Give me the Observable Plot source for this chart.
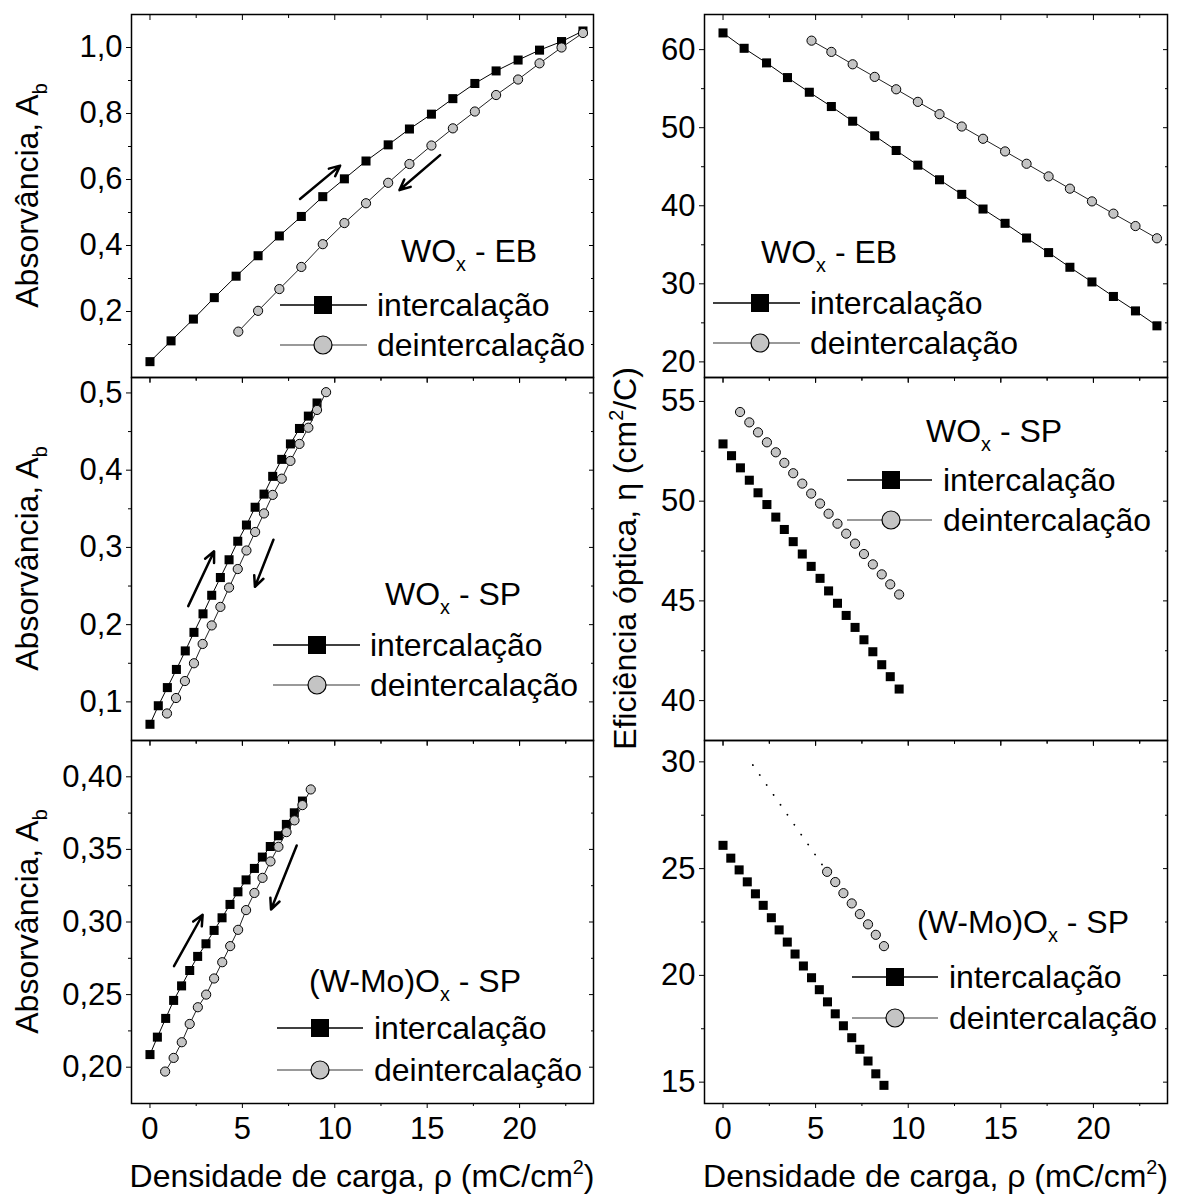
<!DOCTYPE html>
<html><head><meta charset="utf-8">
<script src="https://cdn.jsdelivr.net/npm/d3@7"></script>
<script src="https://cdn.jsdelivr.net/npm/@observablehq/plot@0.6"></script>
<style>
body{margin:0;background:#fff;}
#chart{position:relative;width:1182px;height:1203px;background:#fff;}
#chart svg{position:absolute;overflow:visible;}
</style></head><body><div id="chart"></div>
<script>
// ---------- DATA ----------
// WOx - EB
const ebX_int   = [0,1.14,2.35,3.48,4.66,5.85,7.0,8.19,9.35,10.52,11.69,12.89,14.04,15.23,16.39,17.58,18.73,19.92,21.08,22.27,23.43];
const ebA_int   = [0.048,0.111,0.177,0.242,0.307,0.369,0.429,0.488,0.548,0.602,0.656,0.705,0.753,0.798,0.845,0.891,0.929,0.962,0.992,1.018,1.05];
const ebX_deint = [4.78,5.85,7.0,8.19,9.35,10.52,11.69,12.89,14.04,15.23,16.39,17.58,18.73,19.92,21.08,22.27,23.43];
const ebA_deint = [0.139,0.202,0.268,0.335,0.404,0.468,0.528,0.59,0.647,0.703,0.755,0.806,0.856,0.903,0.952,1.0,1.044];
const ebE_int   = [62.14,60.17,58.3,56.42,54.54,52.71,50.83,48.96,47.08,45.2,43.33,41.46,39.58,37.75,35.87,34.0,32.12,30.24,28.38,26.53,24.62];
const ebE_deint = [61.15,59.71,58.12,56.51,54.92,53.31,51.73,50.15,48.58,46.96,45.38,43.76,42.19,40.56,38.99,37.4,35.83];

// WOx - SP
const spX_int   = [0,0.45,0.94,1.43,1.91,2.38,2.87,3.34,3.81,4.28,4.75,5.22,5.69,6.17,6.64,7.13,7.6,8.09,8.57,9.04];
const spA_int   = [0.071,0.095,0.1185,0.142,0.166,0.19,0.214,0.238,0.261,0.284,0.308,0.329,0.352,0.369,0.392,0.414,0.434,0.454,0.47,0.487];
const spX_deint = [0.92,1.41,1.89,2.38,2.85,3.34,3.81,4.28,4.75,5.22,5.69,6.17,6.64,7.13,7.6,8.09,8.57,9.04,9.53];
const spA_deint = [0.085,0.105,0.127,0.15,0.175,0.199,0.223,0.248,0.272,0.296,0.32,0.344,0.368,0.389,0.412,0.434,0.455,0.478,0.501];
const spXe_int   = [0,0.46,0.94,1.42,1.89,2.37,2.85,3.31,3.79,4.28,4.76,5.24,5.7,6.18,6.65,7.13,7.61,8.09,8.57,9.03,9.51];
const spE_int    = [52.87,52.28,51.67,51.05,50.42,49.83,49.2,48.58,47.97,47.35,46.73,46.13,45.5,44.88,44.27,43.67,43.05,42.45,41.8,41.2,40.58];
const spXe_deint = [0.92,1.42,1.89,2.37,2.85,3.31,3.79,4.28,4.76,5.24,5.7,6.18,6.65,7.13,7.61,8.09,8.57,9.03,9.51];
const spE_deint  = [54.47,53.95,53.45,52.95,52.45,51.92,51.4,50.88,50.38,49.88,49.37,48.87,48.37,47.87,47.35,46.83,46.33,45.83,45.32];

// (W-Mo)Ox - SP
const wmX_int   = [0,0.4,0.85,1.28,1.71,2.15,2.58,3.03,3.47,3.9,4.33,4.76,5.2,5.65,6.08,6.51,6.95,7.38,7.81,8.25];
const wmA_int   = [0.2087,0.2207,0.2336,0.246,0.256,0.2666,0.2763,0.285,0.2942,0.3029,0.3121,0.3208,0.329,0.3369,0.3447,0.352,0.3594,0.3672,0.3752,0.3833];
const wmX_deint = [0.82,1.28,1.72,2.15,2.59,3.04,3.47,3.91,4.34,4.77,5.2,5.65,6.09,6.52,6.95,7.39,7.82,8.25,8.7];
const wmA_deint = [0.197,0.2064,0.2172,0.2298,0.2413,0.25,0.2611,0.2723,0.2834,0.2946,0.3082,0.32,0.3304,0.3417,0.3518,0.3619,0.37,0.3805,0.3913];
const wmXe_int   = [0,0.42,0.87,1.31,1.75,2.17,2.61,3.03,3.47,3.89,4.34,4.78,5.2,5.64,6.06,6.5,6.95,7.39,7.83,8.25,8.69];
const wmE_int    = [26.09,25.49,24.94,24.38,23.82,23.28,22.7,22.13,21.56,21.0,20.44,19.89,19.33,18.76,18.2,17.64,17.08,16.54,15.99,15.39,14.85];
const wmXe_deint = [5.62,6.06,6.5,6.95,7.39,7.83,8.25,8.69];
const wmE_deint  = [24.85,24.37,23.85,23.37,22.87,22.39,21.9,21.37];
const wmXe_dotted = [1.61,5.62];
const wmE_dotted  = [29.85,24.85];

// arrows [x1,y1,x2,y2]
const ebArrows = [[8.12,0.541,10.29,0.642],[15.7,0.674,13.5,0.568]];
const spArrows = [[2.07,0.224,3.47,0.295],[6.68,0.310,5.68,0.249]];
const wmArrows = [[1.3,0.2696,2.85,0.305],[7.94,0.3527,6.55,0.3086]];

// ticks
const xTicks = [0,5,10,15,20];
const xMinor = [2.5,7.5,12.5,17.5,22.5];
const ebA_ticks = [0.2,0.4,0.6,0.8,1.0], ebA_minor = [0.1,0.3,0.5,0.7,0.9];
const spA_ticks = [0.1,0.2,0.3,0.4,0.5], spA_minor = [0.15,0.25,0.35,0.45];
const wmA_ticks = [0.20,0.25,0.30,0.35,0.40], wmA_minor = [0.225,0.275,0.325,0.375];
const ebE_ticks = [20,30,40,50,60], ebE_minor = [25,35,45,55];
const spE_ticks = [40,45,50,55], spE_minor = [42.5,47.5,52.5];
const wmE_ticks = [15,20,25,30], wmE_minor = [17.5,22.5,27.5];

// texts
const legendLabels = ["intercalação","deintercalação"];
const xTitle = "Densidade de carga, ρ (mC/cm";
const yTitleLeft = ["Absorvância, A","b"];
const yTitleRight = ["Eficiência óptica, η (cm","2","/C)"];

// ---------- LAYOUT ----------
const FONT = '"Liberation Sans", Arial, Helvetica, sans-serif';
const COLS = [{left:0, mL:131, frameW:462}, {left:600, mL:104, frameW:463}];
const ROW_TOPS = [14, 377, 740];
const FRAME_H = 363;
const GRAY = "#c4c4c4";

const zip = (xs, ys) => xs.map((x, i) => ({x, y: ys[i]}));
const arr = (a) => a.map(([x1,y1,x2,y2]) => ({x1,y1,x2,y2}));
const fmt = (p) => (d) => p === 0 ? String(d) : d.toFixed(p).replace(".", ",");

const root = document.getElementById("chart");

function panel(cfg) {
  const C = COLS[cfg.col];
  const top = ROW_TOPS[cfg.row];
  const bottom = cfg.row === 2;
  const mB = bottom ? 100 : 20;
  const marks = [
    Plot.axisY(cfg.yTicks, {anchor:"left", tickSize:5, tickPadding:4, tickFormat: fmt(cfg.digits), fontSize:31, label:null}),
    Plot.axisY(cfg.yMinor, {anchor:"left", tickSize:3, fill:"none", label:null}),
    Plot.axisY(cfg.yTicks, {anchor:"right", tickSize:5, insetRight:5, fill:"none", label:null}),
    Plot.axisY(cfg.yMinor, {anchor:"right", tickSize:3, insetRight:3, fill:"none", label:null}),
    Plot.axisX(xTicks, {anchor:"top", tickSize:5, insetTop:5, fill:"none", label:null}),
    Plot.axisX(xMinor, {anchor:"top", tickSize:3, insetTop:3, fill:"none", label:null}),
    bottom
      ? Plot.axisX(xTicks, {anchor:"bottom", tickSize:5, tickPadding:8, fontSize:31, label:null})
      : Plot.axisX(xTicks, {anchor:"bottom", tickSize:5, fill:"none", label:null}),
    Plot.axisX(xMinor, {anchor:"bottom", tickSize:3, fill:"none", label:null}),
  ];
  if (cfg.dotted) marks.push(Plot.line(cfg.dotted, {x:"x", y:"y", stroke:"black", strokeWidth:1.8, strokeDasharray:"0.1,12", strokeLinecap:"round"}));
  if (cfg.lines) marks.push(Plot.line(cfg.ints, {x:"x", y:"y", stroke:"black", strokeWidth:1}));
  marks.push(Plot.dot(cfg.ints, {x:"x", y:"y", symbol:"square", fill:"black", r:5.1}));
  if (cfg.lines) marks.push(Plot.line(cfg.deints, {x:"x", y:"y", stroke:"#222", strokeWidth:1}));
  marks.push(Plot.dot(cfg.deints, {x:"x", y:"y", symbol:"circle", fill:GRAY, stroke:"black", strokeWidth:1, r:4.6}));
  if (cfg.arrows) marks.push(Plot.arrow(cfg.arrows, {x1:"x1", y1:"y1", x2:"x2", y2:"y2", stroke:"black", strokeWidth:2.5, headLength:7, headAngle:50}));
  marks.push(Plot.frame({stroke:"black", strokeWidth:1.5}));

  const svg = Plot.plot({
    width: C.mL + C.frameW + 20,
    height: 14 + FRAME_H + mB,
    marginLeft: C.mL, marginRight: 20, marginTop: 14, marginBottom: mB,
    style: {background:"transparent", overflow:"visible", fontFamily: FONT, color:"black"},
    x: {domain:[-1, 24]},
    y: {domain: cfg.yDomain},
    marks
  });
  svg.style.left = C.left + "px";
  svg.style.top = (top - 14) + "px";
  root.appendChild(svg);
}

panel({col:0, row:0, yDomain:[0,1.1], yTicks:ebA_ticks, yMinor:ebA_minor, digits:1, lines:true,
  ints: zip(ebX_int, ebA_int), deints: zip(ebX_deint, ebA_deint), arrows: arr(ebArrows)});
panel({col:1, row:0, yDomain:[18,64.5], yTicks:ebE_ticks, yMinor:ebE_minor, digits:0, lines:true,
  ints: zip(ebX_int, ebE_int), deints: zip(ebX_deint, ebE_deint)});
panel({col:0, row:1, yDomain:[0.05,0.52], yTicks:spA_ticks, yMinor:spA_minor, digits:1, lines:true,
  ints: zip(spX_int, spA_int), deints: zip(spX_deint, spA_deint), arrows: arr(spArrows)});
panel({col:1, row:1, yDomain:[38,56.2], yTicks:spE_ticks, yMinor:spE_minor, digits:0, lines:false,
  ints: zip(spXe_int, spE_int), deints: zip(spXe_deint, spE_deint)});
panel({col:0, row:2, yDomain:[0.175,0.425], yTicks:wmA_ticks, yMinor:wmA_minor, digits:2, lines:true,
  ints: zip(wmX_int, wmA_int), deints: zip(wmX_deint, wmA_deint), arrows: arr(wmArrows)});
panel({col:1, row:2, yDomain:[14,31], yTicks:wmE_ticks, yMinor:wmE_minor, digits:0, lines:false,
  ints: zip(wmXe_int, wmE_int), deints: zip(wmXe_deint, wmE_deint), dotted: zip(wmXe_dotted, wmE_dotted)});

// ---------- ANNOTATIONS (titles, legends) ----------
const ov = d3.select(root).append("svg")
  .attr("width", 1182).attr("height", 1203)
  .style("left","0px").style("top","0px").style("pointer-events","none")
  .attr("font-family", FONT);

function rich(g, x, y, parts, size, anchor = "start", rotate = false) {
  const t = g.append("text").attr("x", x).attr("y", y).attr("font-size", size)
    .attr("text-anchor", anchor).attr("fill", "black");
  if (rotate) t.attr("transform", `rotate(-90,${x},${y})`);
  let shift = 0;
  for (const [s, kind] of parts) {
    const target = kind === "sub" ? size * 0.28 : kind === "sup" ? -size * 0.42 : 0;
    const ts = t.append("tspan").text(s).attr("dy", target - shift);
    if (kind) ts.attr("font-size", size * 0.62);
    shift = target;
  }
  return t;
}

// y titles
[195.5, 558.5, 921.5].forEach(cy => rich(ov, 38, cy, [[yTitleLeft[0]],[yTitleLeft[1],"sub"]], 32, "middle", true));
rich(ov, 636, 558.5, [[yTitleRight[0]],[yTitleRight[1],"sup"],[yTitleRight[2]]], 32, "middle", true);
// x titles
[362, 935.5].forEach(cx => rich(ov, cx, 1187, [[xTitle],["2","sup"],[")"]], 32, "middle"));

// panel labels + legends
const WOx = (suffix) => [["WO"],["x","sub"],[suffix]];
const WMo = [["(W-Mo)O"],["x","sub"],[" - SP"]];
const legends = [
  {label: WOx(" - EB"), lx:401, lb:262, line:[280,367], mx:323, tx:377, rows:[305,345]},
  {label: WOx(" - EB"), lx:761, lb:263, line:[713,800], mx:760, tx:810, rows:[303,343]},
  {label: WOx(" - SP"), lx:385, lb:605, line:[273,360], mx:317, tx:370, rows:[645,685]},
  {label: WOx(" - SP"), lx:926, lb:442, line:[847,932], mx:891, tx:943, rows:[480,520]},
  {label: WMo,          lx:309, lb:992, line:[277,363], mx:320, tx:374, rows:[1028,1070]},
  {label: WMo,          lx:917, lb:933, line:[852,938], mx:895, tx:949, rows:[977,1018]},
];
for (const L of legends) {
  rich(ov, L.lx, L.lb, L.label, 32);
  L.rows.forEach((cy, i) => {
    ov.append("line").attr("x1", L.line[0]).attr("x2", L.line[1]).attr("y1", cy).attr("y2", cy)
      .attr("stroke", i === 0 ? "black" : "#777").attr("stroke-width", 1.5);
    if (i === 0) ov.append("rect").attr("x", L.mx - 9).attr("y", cy - 9).attr("width", 18).attr("height", 18).attr("fill", "black");
    else ov.append("circle").attr("cx", L.mx).attr("cy", cy).attr("r", 9).attr("fill", GRAY).attr("stroke", "black").attr("stroke-width", 1.2);
    ov.append("text").attr("x", L.tx).attr("y", cy + 11).attr("font-size", 32).attr("fill", "black").text(legendLabels[i]);
  });
}
</script></body></html>
